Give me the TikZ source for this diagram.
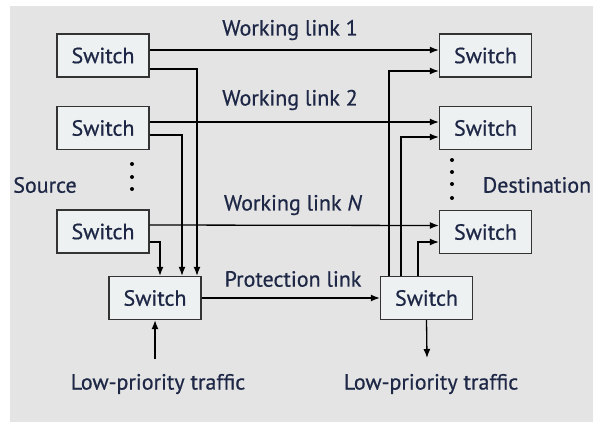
\documentclass[tikz,border=0pt]{standalone}
\usepackage{fontspec}
\setmainfont{PT Sans}[FakeBold=0.6]
\usetikzlibrary{arrows.meta}
\definecolor{bg}{RGB}{228,228,228}
\definecolor{boxfill}{RGB}{238,241,241}
\definecolor{ink}{RGB}{30,40,70}
\tikzset{
  switch/.style={draw=black!80,fill=boxfill,line width=1.4pt,minimum width=92pt,minimum height=43pt,inner sep=0pt,text=ink},
  label/.style={text=ink,inner sep=0pt},
  link/.style={line width=1.3pt,-{Latex[length=9pt,width=7pt]}},
  dot/.style={circle,fill=black,inner sep=0pt,minimum size=4pt}
}
\begin{document}
\begin{tikzpicture}[x={(1pt,0pt)},y={(0pt,-1pt)},font=\fontsize{22}{26}\selectfont]
\useasboundingbox (0,0) rectangle (593,422);
\fill[bg] (10,6) rectangle (593,422);
% switches
\node[switch] (src1) at (103,55.5) {Switch};
\node[switch] (src2) at (103,128) {Switch};
\node[switch] (src3) at (103,231.5) {Switch};
\node[switch] (srcP) at (155,298) {Switch};
\node[switch] (dst1) at (485.5,55.5) {Switch};
\node[switch] (dst2) at (485.5,128) {Switch};
\node[switch] (dst3) at (485.5,232) {Switch};
\node[switch] (dstP) at (426.5,298) {Switch};
% labels
\node[label] (wl1) at (290,30) {Working link 1};
\node[label] (wl2) at (290,100) {Working link 2};
\node[label] (wlN) at (293,205) {Working link \textit{N}};
\node[label] (pl) at (293,279) {Protection link};
\node[label] (src) at (45,185) {Source};
\node[label] (dst) at (537,185) {Destination};
\node[label] (lpS) at (158,384) {Low-priority traffic};
\node[label] (lpD) at (431,384) {Low-priority traffic};
\coordinate (inS) at (155,359);
\coordinate (outD) at (427,358);
% dots
\foreach \y in {164,177,189} \node[dot] at (132,\y) {};
\foreach \y in {160,172,184,198} \node[dot] at (452,\y) {};
% working links
\draw[link] ([yshift=5.5pt]src1.east) -- ([yshift=5.5pt]dst1.west);
\draw[link] ([yshift=6pt]src2.east) -- ([yshift=6pt]dst2.west);
\draw[link] ([yshift=6.5pt]src3.east) -- ([yshift=6.5pt]dst3.west);
% to protection switch
\draw[link] ([yshift=-13.5pt]src1.east) -| ([xshift=42pt]srcP.north);
\draw[link] ([yshift=-7pt]src2.east) -| ([xshift=27pt]srcP.north);
\draw[link] ([yshift=-10.5pt]src3.east) -| ([xshift=5pt]srcP.north);
% from protection switch
\draw[link] ([xshift=-37.5pt]dstP.north) |- ([yshift=-15.5pt]dst1.west);
\draw[link] ([xshift=-25.5pt]dstP.north) |- ([yshift=-9pt]dst2.west);
\draw[link] ([xshift=-8.5pt]dstP.north) |- ([yshift=-10pt]dst3.west);
% protection link
\draw[link] (srcP.east) -- (dstP.west);
\draw[link] (inS) -- (srcP.south);
\draw[link] (dstP.south) -- (outD);
\end{tikzpicture}
\end{document}
